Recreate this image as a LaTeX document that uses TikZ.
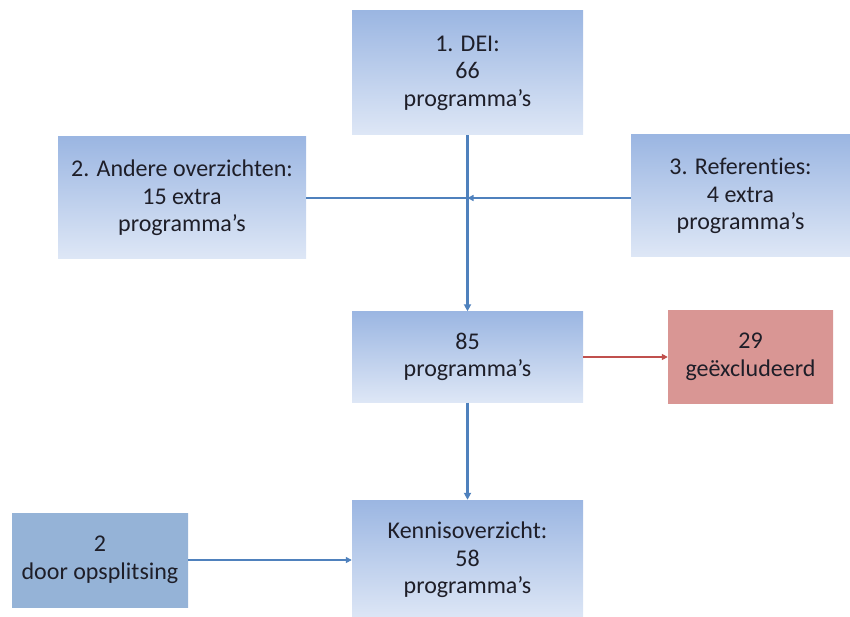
\documentclass[tikz,border=0pt]{standalone}
\usepackage{fontspec}
\setmainfont{Carlito}[Ligatures=NoCommon]
\usetikzlibrary{arrows.meta}

\definecolor{boxtop}{RGB}{155,182,226}
\definecolor{boxbot}{RGB}{222,231,246}
\definecolor{boxflat}{RGB}{149,179,215}
\definecolor{boxred}{RGB}{217,150,148}
\definecolor{lineblue}{RGB}{79,129,189}
\definecolor{linered}{RGB}{192,80,77}
\definecolor{txt}{RGB}{30,30,40}

\tikzset{
  stepbox/.style={rectangle, top color=boxtop, bottom color=boxbot, draw=none,
    align=center, text=txt, font=\fontsize{24}{27.5}\selectfont, inner sep=0pt},
  flatbox/.style={stepbox, top color=boxflat, bottom color=boxflat},
  redbox/.style={stepbox, top color=boxred, bottom color=boxred},
  flow/.style={draw=lineblue, line width=2.6pt, -{Triangle[length=7pt,width=7pt]}},
  thinflow/.style={draw=lineblue, line width=1.6pt, -{Triangle[length=6pt,width=6pt]}},
}

\begin{document}
\begin{tikzpicture}[x=1pt, y=-1pt]
  \useasboundingbox (0,0) rectangle (850,617);

  % ==== BOXES ====
  \node[stepbox, minimum width=231pt, minimum height=124pt] (dei) at (467.5,73)
    {1. DEI:\\66\\programma's};
  \node[stepbox, minimum width=248pt, minimum height=122pt] (andere) at (182,198)
    {2. Andere overzichten:\\15 extra\\programma's};
  \node[stepbox, minimum width=219pt, minimum height=122pt] (ref) at (740.5,196)
    {3. Referenties:\\4 extra\\programma's};
  \node[stepbox, minimum width=231pt, minimum height=91pt] (totaal) at (467.5,357)
    {85\\programma's};
  \node[redbox, minimum width=165pt, minimum height=93pt] (excl) at (750.5,357)
    {29\\geëxcludeerd};
  \node[stepbox, minimum width=231pt, minimum height=120pt] (kennis) at (467.5,560)
    {Kennisoverzicht:\\58\\programma's};
  \node[flatbox, minimum width=176pt, minimum height=94pt] (split) at (100,560)
    {2\\door opsplitsing};

  % ==== CONNECTORS ====
  \coordinate (join) at (dei.south |- andere.east);
  \draw[flow] (dei) -- (totaal);
  \draw[draw=lineblue, line width=1.6pt] (andere.east) -- (join);
  \draw[thinflow] (ref.west |- join) -- (join);
  \draw[draw=linered, line width=1.6pt, -{Triangle[length=6pt,width=6pt]}] (totaal) -- (excl);
  \draw[flow] (totaal) -- (kennis);
  \draw[thinflow] (split) -- (kennis);
\end{tikzpicture}
\end{document}
